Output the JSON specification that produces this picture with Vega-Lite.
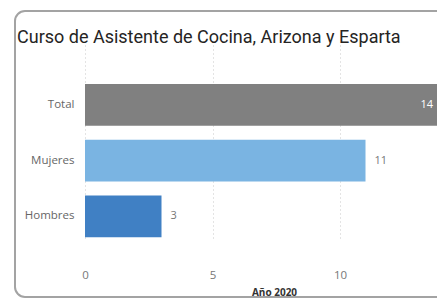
{
  "$schema": "https://vega.github.io/schema/vega-lite/v6.json",
  "width": 460,
  "height": 286,
  "autosize": {"type": "none"},
  "padding": {"left": 15, "top": 11, "right": -38, "bottom": 4},
  "background": "white",
  "config": {
    "view": {"stroke": null, "fill": "white"}
  },
  "title": {
    "text": "Curso de Asistente de Cocina, Arizona y Esparta",
    "anchor": "start",
    "frame": "group",
    "offset": -51,
    "baseline": "alphabetic",
    "dx": 2,
    "font": "Roboto",
    "fontSize": 18,
    "fontWeight": 400,
    "color": "#252423"
  },
  "layer": [
    {
      "data": {"values": [{"card": "frame"}]},
      "mark": {"type": "rect", "fill": null, "stroke": "#a3a3a3", "strokeWidth": 2, "cornerRadius": 10},
      "encoding": {
        "x": {"datum": -2.745, "type": "quantitative", "scale": {"domain": [0, 14], "range": [70, 427], "nice": false}},
        "x2": {"datum": 15}
      }
    },
    {
      "data": {
        "values": [
          {"genero": "Total", "valor": 14},
          {"genero": "Mujeres", "valor": 11},
          {"genero": "Hombres", "valor": 3}
        ]
      },
      "encoding": {
        "y": {
          "field": "genero",
          "type": "nominal",
          "sort": ["Total", "Mujeres", "Hombres"],
          "scale": {"range": [59, 254], "paddingInner": 0.25, "paddingOuter": 0.375, "align": 0.335},
          "axis": {
            "title": null,
            "domain": false,
            "ticks": false,
            "tickSize": 0,
            "labelPadding": 11,
            "offset": -70,
            "labelFont": "Open Sans",
            "labelFontSize": 11.5,
            "labelColor": "#666666",
            "grid": false
          }
        },
        "x": {
          "field": "valor",
          "type": "quantitative",
          "scale": {"domain": [0, 14], "range": [70, 427], "nice": false},
          "axis": {
            "title": "Año 2020",
            "values": [0, 5, 10],
            "domain": false,
            "ticks": false,
            "tickSize": 0,
            "offset": -32,
            "labelPadding": 4,
            "labelFlush": false,
            "labelFont": "Open Sans",
            "labelFontSize": 11.5,
            "labelColor": "#777777",
            "grid": true,
            "gridDash": [1, 3],
            "gridColor": "#c8c8c8",
            "titleFont": "Open Sans",
            "titleFontSize": 10,
            "titleFontWeight": "bold",
            "titleColor": "#333333",
            "titlePadding": 7,
            "titleX": 259,
            "titleAlign": "center"
          }
        }
      },
      "layer": [
        {
          "mark": {"type": "bar"},
          "encoding": {
            "color": {
              "field": "genero",
              "type": "nominal",
              "scale": {"domain": ["Total", "Mujeres", "Hombres"], "range": ["#808080", "#7ab4e2", "#4080c4"]},
              "legend": null
            }
          }
        },
        {
          "transform": [{"filter": "datum.genero !== 'Total'"}],
          "mark": {"type": "text", "align": "left", "dx": 9, "font": "Open Sans", "fontSize": 11, "color": "#777777"},
          "encoding": {"text": {"field": "valor", "type": "quantitative"}}
        },
        {
          "transform": [{"filter": "datum.genero === 'Total'"}],
          "mark": {"type": "text", "align": "right", "dx": -9, "font": "Open Sans", "fontSize": 11, "color": "white"},
          "encoding": {"text": {"field": "valor", "type": "quantitative"}}
        }
      ]
    }
  ]
}
